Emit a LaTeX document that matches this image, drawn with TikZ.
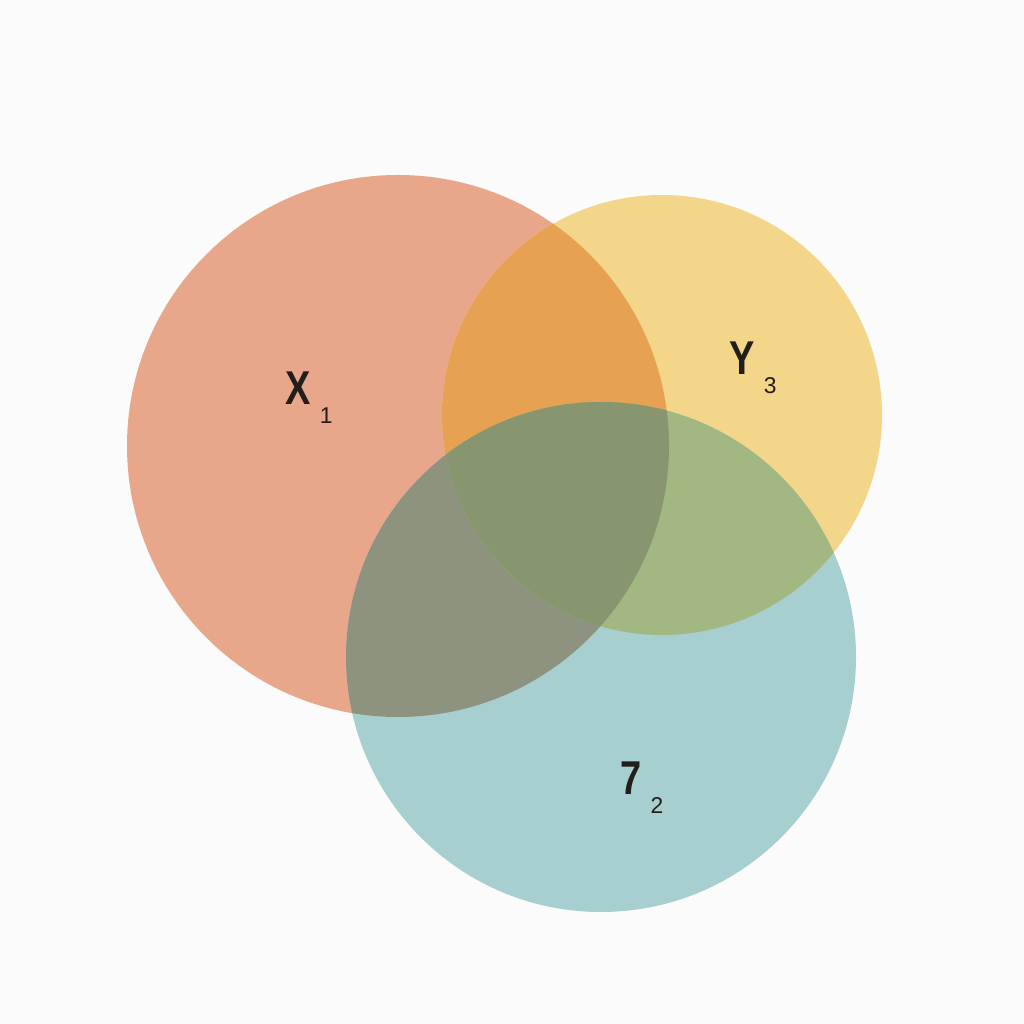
\documentclass[tikz,border=0pt]{standalone}
\usepackage{fontspec}
\setsansfont{Liberation Sans}
\usetikzlibrary{positioning}
\definecolor{bgwhite}{RGB}{250,251,250}
\definecolor{setred}{RGB}{232,167,138}
\definecolor{setyellow}{RGB}{243,214,138}
\definecolor{setblue}{RGB}{168,207,208}
\definecolor{redyellow}{RGB}{230,162,82}
\definecolor{redblue}{RGB}{142,147,128}
\definecolor{yellowblue}{RGB}{163,183,130}
\definecolor{allthree}{RGB}{135,150,110}
\definecolor{labelink}{RGB}{35,30,28}
\newcommand{\setlabel}[2]{\scalebox{0.8}[1]{#1}\hspace{2.5pt}\raisebox{-0.75ex}{\mdseries\fontsize{6.5}{6.5}\selectfont #2}}

\begin{document}
\begin{tikzpicture}[x = .01cm, y = .01cm, style={font=\sffamily\bfseries}]
% canvas
\fill[bgwhite] (0,0) rectangle (1024,1024);
\useasboundingbox (0,0) rectangle (1024,1024);
% single sets
\fill[setred] (398,578) circle (271);
\fill[setyellow] (662,609) circle (220);
\fill[setblue] (601,367) circle (255);
% pairwise overlaps
\begin{scope}
\clip (398,578) circle (271);
\fill[redyellow] (662,609) circle (220);
\fill[redblue] (601,367) circle (255);
\end{scope}
\begin{scope}
\clip (662,609) circle (220);
\fill[yellowblue] (601,367) circle (255);
\end{scope}
% centre
\begin{scope}
\clip (398,578) circle (271);
\clip (662,609) circle (220);
\fill[allthree] (601,367) circle (255);
\end{scope}
% labels
\tikzset{setname/.style={labelink, inner sep=0pt, anchor=base west, font=\sffamily\bfseries\fontsize{13.5}{13.5}\selectfont}}
\node[setname] (lblX) at (285,619) {\setlabel{X}{1}};
\node[setname] (lblY) at (729,649) {\setlabel{Y}{3}};
\node[setname] (lblZ) at (620,229) {\setlabel{7}{2}};
\end{tikzpicture}
\end{document}
